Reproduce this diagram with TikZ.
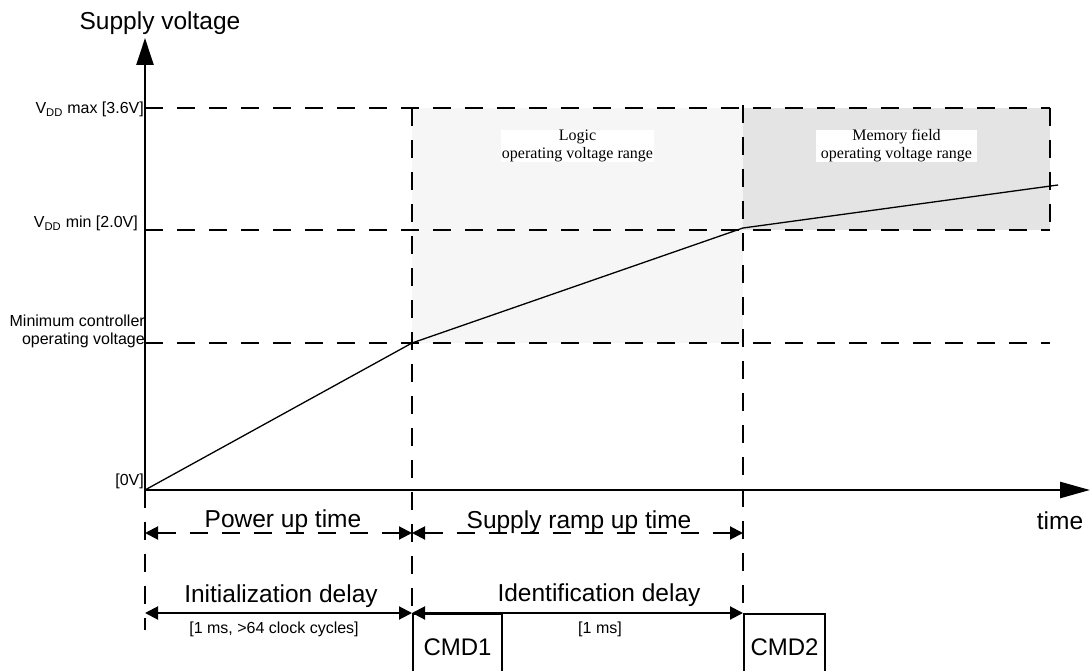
\documentclass[tikz,border=0pt]{standalone}
\usepackage{fontspec}
\setmainfont{Liberation Sans}
\newfontfamily\rangefont{Liberation Serif}
\usetikzlibrary{arrows.meta}
\definecolor{logicgray}{HTML}{F6F6F6}
\definecolor{memorygray}{HTML}{E4E4E4}
\tikzset{
  guideline/.style={line width=2pt,dash pattern=on 18pt off 14pt},
  spanarrow/.style={line width=2pt,{Triangle[length=13pt,width=13pt]}-{Triangle[length=13pt,width=13pt]}},
  biglabel/.style={font=\fontsize{24.5}{28}\selectfont,inner sep=0pt},
  smalllabel/.style={font=\fontsize{16}{18}\selectfont,inner sep=0pt},
  rangelabel/.style={font=\rangefont\fontsize{16}{18}\selectfont,fill=white,align=center,inner sep=0pt,minimum height=32pt},
  cmdbox/.style={draw,line width=2pt,anchor=north west,minimum height=66pt,font=\fontsize{24}{28}\selectfont}
}

\begin{document}
\begin{tikzpicture}[x=1pt,y=-1pt]
  \clip (0,0) rectangle (1092,671);
  \coordinate (O) at (145,490);
  \coordinate (Ytop) at (145,38);
  \coordinate (Xend) at (1090,490);
  \coordinate (pA) at (412,343);
  \coordinate (pB) at (743,228);
  \coordinate (pC) at (1058,185);
  \coordinate (t0) at (145,533);
  \coordinate (t1) at (412,533);
  \coordinate (t2) at (743,533);
  \coordinate (d0) at (145,613);
  \coordinate (d1) at (412,613);
  \coordinate (d2) at (743,613);

  \fill[logicgray] (412,108) rectangle (743,343);
  \fill[memorygray] (743,108) rectangle (1050,230);
  \foreach \y in {108,230,343}
    \draw[guideline] (145,\y) -- (1050,\y);
  \draw[guideline] (1050,108) -- (1050,230);
  \draw[guideline] (412,108) -- (d1);
  \draw[guideline] (743,105) -- (d2);
  \draw[guideline] (O) -- (145,630);

  \draw[line width=2.6pt,-{Triangle[length=27pt,width=17pt]}] (O) -- (Ytop);
  \draw[line width=2.6pt,-{Triangle[length=30pt,width=16pt]}] (O) -- (Xend);
  \draw[line width=1.3pt] (O) -- (pA) -- (pB) -- (pC);

  \node[biglabel,anchor=base] (ylab) at (160,30) {Supply voltage};
  \node[biglabel,anchor=base] (xlab) at (1060,529) {time};
  \node[smalllabel,anchor=base east] (vmax) at (144,114) {V\textsubscript{DD} max [3.6V]};
  \node[smalllabel,anchor=base east] (vmin) at (138,228) {V\textsubscript{DD} min [2.0V]};
  \node[smalllabel,anchor=base east,align=right] (vctl) at (145,344) {Minimum controller\\operating voltage};
  \node[smalllabel,anchor=base east] (vzero) at (144,485) {[0V]};
  \node[rangelabel,minimum width=153pt] (logic) at (577.5,146) {Logic\\operating voltage range};
  \node[rangelabel,minimum width=161pt] (memory) at (896.5,146) {Memory field\\operating voltage range};

  \node[cmdbox,minimum width=89pt] (cmd1) at (d1) {CMD1};
  \node[cmdbox,minimum width=81pt] (cmd2) at (d2) {CMD2};

  \draw[spanarrow,dash pattern=on 18pt off 14pt] (t0) -- (t1);
  \draw[spanarrow,dash pattern=on 18pt off 14pt] (t1) -- (t2);
  \draw[spanarrow] (d0) -- (d1);
  \draw[spanarrow] (d1) -- (d2);

  \node[biglabel,anchor=base] (powerup) at (283,527) {Power up time};
  \node[biglabel,anchor=base] (rampup) at (579,528) {Supply ramp up time};
  \node[biglabel,anchor=base] (initdelay) at (281,602) {Initialization delay};
  \node[biglabel,anchor=base] (identdelay) at (599,601) {Identification delay};
  \node[smalllabel,anchor=base] (initnote) at (274,633) {[1 ms, >64 clock cycles]};
  \node[smalllabel,anchor=base] (identnote) at (600,633) {[1 ms]};
\end{tikzpicture}
\end{document}
